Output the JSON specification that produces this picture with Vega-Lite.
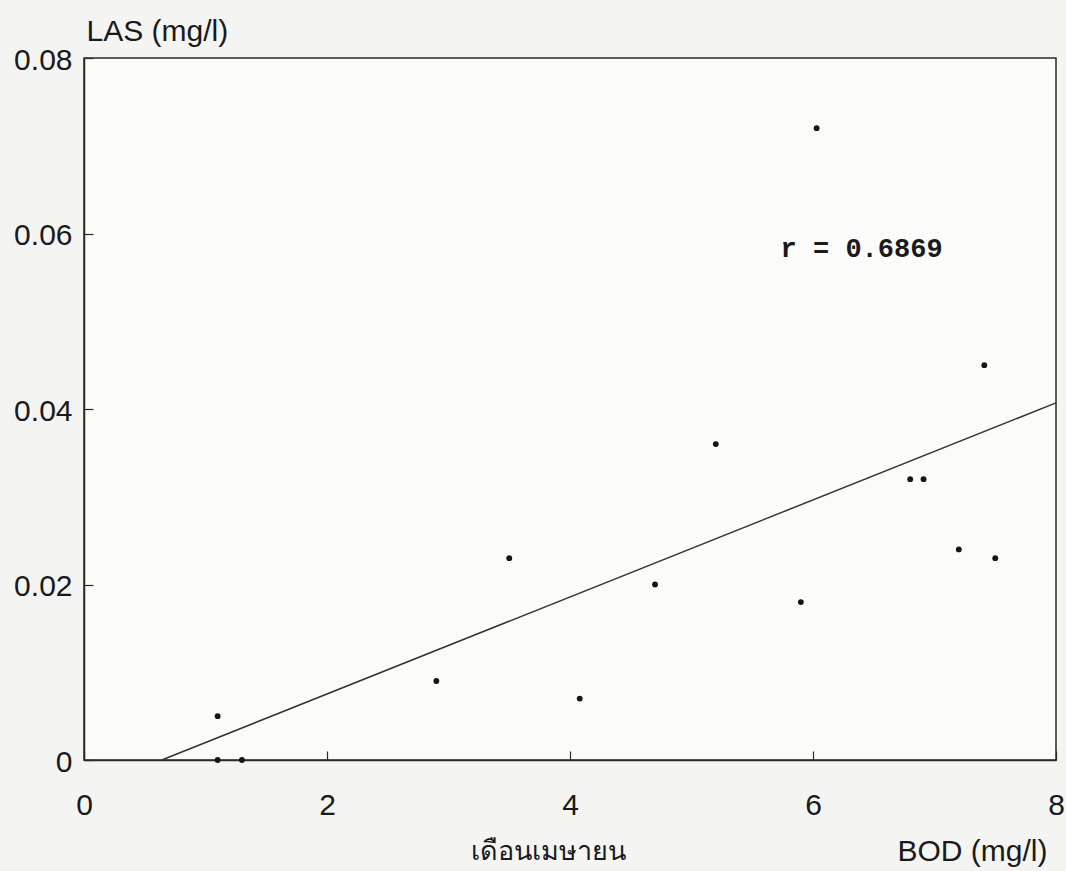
{
  "$schema": "https://vega.github.io/schema/vega-lite/v6.json",
  "width": 972,
  "height": 702,
  "autosize": {"type": "none"},
  "padding": {"left": 84, "top": 58, "right": 10, "bottom": 111},
  "background": "#f4f4f2",
  "config": {
    "view": {"stroke": "#2a2a2a", "strokeWidth": 1.5, "fill": "#fbfbfa"},
    "font": "Liberation Sans"
  },
  "layer": [
    {
      "data": {"values": [
        {"BOD": 1.1, "LAS": 0.005},
        {"BOD": 1.1, "LAS": 0.0},
        {"BOD": 1.3, "LAS": 0.0},
        {"BOD": 2.9, "LAS": 0.009},
        {"BOD": 3.5, "LAS": 0.023},
        {"BOD": 4.08, "LAS": 0.007},
        {"BOD": 4.7, "LAS": 0.02},
        {"BOD": 5.2, "LAS": 0.036},
        {"BOD": 5.9, "LAS": 0.018},
        {"BOD": 6.03, "LAS": 0.072},
        {"BOD": 6.8, "LAS": 0.032},
        {"BOD": 6.91, "LAS": 0.032},
        {"BOD": 7.2, "LAS": 0.024},
        {"BOD": 7.41, "LAS": 0.045},
        {"BOD": 7.5, "LAS": 0.023}
      ]},
      "mark": {"type": "circle", "size": 34, "color": "#151515", "opacity": 1},
      "encoding": {
        "x": {
          "field": "BOD", "type": "quantitative",
          "scale": {"domain": [0, 8], "nice": false, "zero": false},
          "axis": {
            "values": [0, 2, 4, 6, 8],
            "labelExpr": "format(datum.value, 'd')",
            "grid": false,
            "domainColor": "#2a2a2a", "domainWidth": 1.5,
            "tickColor": "#2a2a2a", "tickSize": -9, "tickWidth": 1.2,
            "labelFontSize": 30, "labelColor": "#1a1a1a", "labelBaseline": "alphabetic",
            "labelPadding": 63, "labelFlush": false,
            "title": "BOD (mg/l)", "titleFontSize": 30, "titleFontWeight": "normal",
            "titleColor": "#1a1a1a", "titleX": 963, "titleY": 100,
            "titleAlign": "right", "titleBaseline": "alphabetic"
          }
        },
        "y": {
          "field": "LAS", "type": "quantitative",
          "scale": {"domain": [0, 0.08], "nice": false, "zero": false},
          "axis": {
            "values": [0, 0.02, 0.04, 0.06, 0.08],
            "labelExpr": "datum.value == 0 ? '0' : format(datum.value, '.2f')",
            "grid": false,
            "domainColor": "#2a2a2a", "domainWidth": 1.5,
            "tickColor": "#2a2a2a", "tickSize": -9, "tickWidth": 1.2,
            "labelFontSize": 30, "labelColor": "#1a1a1a", "labelBaseline": "middle",
            "labelPadding": 21, "labelOffset": 2, "labelFlush": false,
            "title": "LAS (mg/l)", "titleFontSize": 30, "titleFontWeight": "normal",
            "titleColor": "#1a1a1a", "titleAngle": 0, "titleX": 2, "titleY": -18,
            "titleAlign": "left", "titleBaseline": "alphabetic"
          }
        }
      }
    },
    {
      "data": {"values": [
        {"BOD": 0.64, "LAS": 0.0},
        {"BOD": 8.0, "LAS": 0.0407}
      ]},
      "mark": {"type": "line", "color": "#333333", "strokeWidth": 1.5},
      "encoding": {
        "x": {"field": "BOD", "type": "quantitative"},
        "y": {"field": "LAS", "type": "quantitative"}
      }
    },
    {
      "data": {"values": [{"label": "r = 0.6869"}]},
      "mark": {"type": "text", "font": "Liberation Mono", "fontWeight": "bold", "fontSize": 27, "color": "#1a1a1a", "align": "center", "baseline": "middle"},
      "encoding": {
        "x": {"datum": 6.4},
        "y": {"datum": 0.0582},
        "text": {"field": "label"}
      }
    },
    {
      "data": {"values": [{"label": "เดือนเมษายน"}]},
      "mark": {"type": "text", "fontSize": 27, "color": "#1a1a1a", "align": "center", "baseline": "alphabetic"},
      "encoding": {
        "x": {"datum": 3.82},
        "y": {"datum": -0.0114},
        "text": {"field": "label"}
      }
    }
  ]
}
